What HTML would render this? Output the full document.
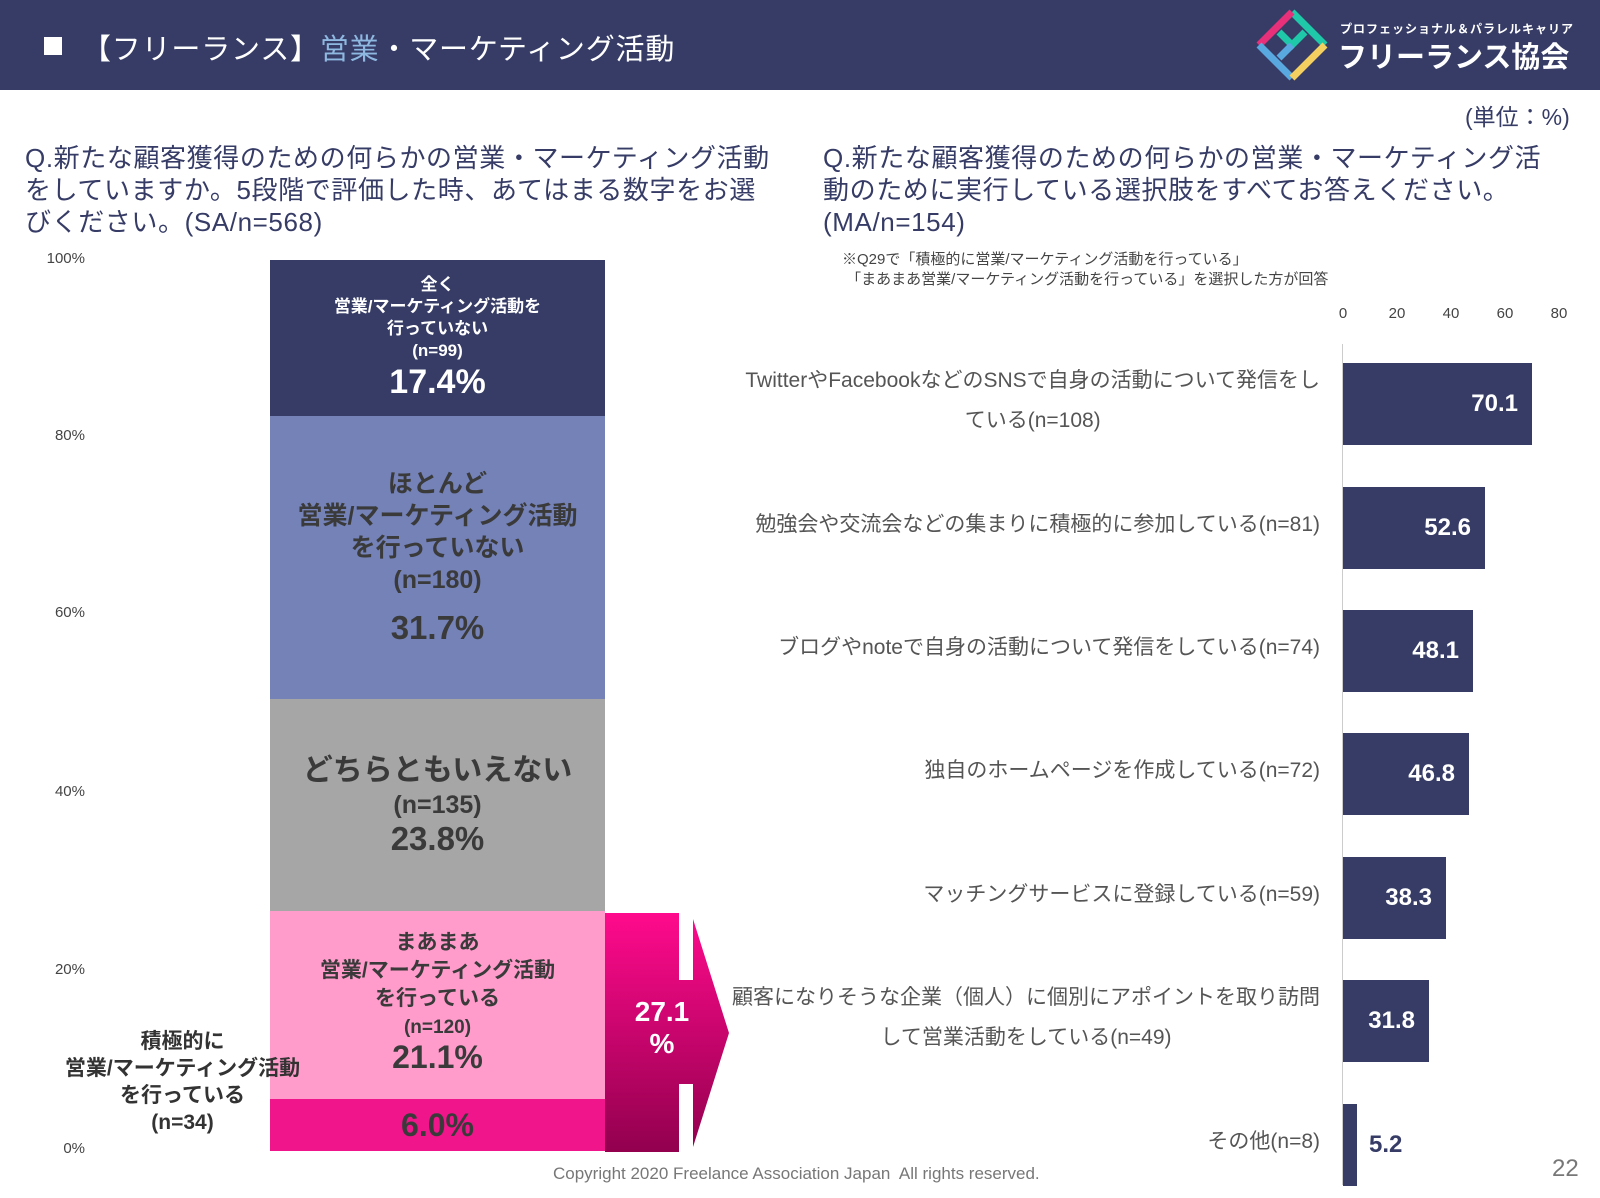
<!DOCTYPE html>
<html><head><meta charset="utf-8"><style>
*{margin:0;padding:0;box-sizing:border-box}
body{width:1600px;height:1198px;background:#fff;position:relative;overflow:hidden;font-family:"Liberation Sans","Noto Sans CJK JP",sans-serif}
.a{position:absolute}
.hdr{left:0;top:0;width:1600px;height:90px;background:#363c66}
.q{font-size:26px;line-height:32px;color:#363c66;white-space:nowrap;letter-spacing:0.6px}
.yl{font-size:15px;color:#444;width:60px;text-align:right;left:25px}
.seg{left:270px;width:335px;text-align:center;font-weight:bold;display:flex;flex-direction:column;justify-content:center;align-items:center}
.lab{font-size:21px;color:#555;text-align:right;right:280px;line-height:40px;white-space:nowrap}
.bar{left:1343px;height:82px;background:#363c66;color:#fff;font-weight:bold;font-size:24px;text-align:right;padding-right:14px;line-height:82px}
.tk{top:305px;font-size:15px;color:#444;width:40px;text-align:center}
</style></head><body>
<div class="a hdr"></div>
<div class="a" style="left:44px;top:37px;width:18px;height:18px;background:#fff"></div>
<div class="a" style="left:82px;top:26px;font-size:29px;color:#fff;white-space:nowrap;letter-spacing:0.8px">【フリーランス】<span style="color:#8fb8e0">営業</span>・マーケティング活動</div>
<svg class="a" style="left:1255px;top:8px" width="74" height="74" viewBox="0 0 74 74">
<g fill="none" stroke-width="7"><path d="M37 4 L70 37" stroke="#1fc8a8"/><path d="M4 37 L37 4" stroke="#e8307a"/><path d="M4 37 L37 70" stroke="#5aa8e0"/><path d="M37 70 L70 37" stroke="#f4d060"/><path d="M24 24 L37 37 L50 24" stroke="#1fc8a8"/><path d="M24 50 L37 37" stroke="#5aa8e0"/></g></svg>
<div class="a" style="left:1340px;top:20px;font-size:12px;color:#fff;font-weight:bold;letter-spacing:1px">プロフェッショナル＆パラレルキャリア</div>
<div class="a" style="left:1338px;top:34px;font-size:29px;color:#fff;font-weight:bold;white-space:nowrap">フリーランス協会</div>

<div class="a" style="left:1465px;top:98px;font-size:23px;color:#363c66">(単位：%)</div>
<div class="a q" style="left:25px;top:142px">Q.新たな顧客獲得のための何らかの営業・マーケティング活動<br>をしていますか。5段階で評価した時、あてはまる数字をお選<br>びください。(SA/n=568)</div>
<div class="a q" style="left:823px;top:142px">Q.新たな顧客獲得のための何らかの営業・マーケティング活<br>動のために実行している選択肢をすべてお答えください。<br>(MA/n=154)</div>
<div class="a" style="left:842px;top:250px;font-size:15px;line-height:20px;color:#444;white-space:nowrap">※Q29で「積極的に営業/マーケティング活動を行っている」<br>&nbsp;「まあまあ営業/マーケティング活動を行っている」を選択した方が回答</div>

<div class="a yl" style="top:250px">100%</div>
<div class="a yl" style="top:427px">80%</div>
<div class="a yl" style="top:604px">60%</div>
<div class="a yl" style="top:783px">40%</div>
<div class="a yl" style="top:961px">20%</div>
<div class="a yl" style="top:1140px">0%</div>

<div class="a seg" style="top:260px;height:156px;background:#363c66;color:#fff;font-size:17px;line-height:22px"><div>全く<br>営業/マーケティング活動を<br>行っていない<br>(n=99)</div><div style="font-size:34px;line-height:40px">17.4%</div></div>
<div class="a seg" style="top:416px;height:283px;background:#7482b8;color:#3a3a3a;font-size:25px;line-height:32px"><div>ほとんど<br>営業/マーケティング活動<br>を行っていない<br>(n=180)</div><div style="font-size:33px;line-height:40px;margin-top:12px">31.7%</div></div>
<div class="a seg" style="top:699px;height:212px;background:#a6a6a6;color:#3a3a3a;font-size:25px;line-height:34px"><div style="font-size:30px">どちらともいえない</div><div>(n=135)</div><div style="font-size:33px">23.8%</div></div>
<div class="a seg" style="top:911px;height:188px;background:#ff9ccb;color:#3a3a3a;font-size:21px;line-height:28px"><div>まあまあ<br>営業/マーケティング活動<br>を行っている<br><span style="font-size:19px">(n=120)</span></div><div style="font-size:32px;line-height:30px;margin-bottom:10px">21.1%</div></div>
<div class="a seg" style="top:1099px;height:52px;background:#f0158a;color:#3a3a3a;font-size:32px">6.0%</div>
<div class="a" style="left:40px;top:1028px;width:285px;text-align:center;font-weight:bold;font-size:21px;line-height:27px;color:#333">積極的に<br>営業/マーケティング活動<br>を行っている<br>(n=34)</div>

<svg class="a" style="left:605px;top:913px" width="130" height="240">
<defs><linearGradient id="g" x1="0" y1="0" x2="0" y2="1"><stop offset="0" stop-color="#ff0a8c"/><stop offset="1" stop-color="#92004e"/></linearGradient></defs>
<path d="M0 0 H74 V67 H88 V6 L124 120 L88 234 V171 H74 V239 H0 Z" fill="url(#g)"/>
</svg>
<div class="a" style="left:605px;top:996px;width:114px;text-align:center;color:#fff;font-weight:bold;font-size:28px;line-height:32px">27.1<br>%</div>

<div class="a tk" style="left:1323px">0</div>
<div class="a tk" style="left:1377px">20</div>
<div class="a tk" style="left:1431px">40</div>
<div class="a tk" style="left:1485px">60</div>
<div class="a tk" style="left:1539px">80</div>
<div class="a" style="left:1342px;top:344px;width:1px;height:841px;background:#ccc"></div>

<div class="a bar" style="top:363px;width:189px">70.1</div>
<div class="a bar" style="top:487px;width:142px">52.6</div>
<div class="a bar" style="top:610px;width:130px">48.1</div>
<div class="a bar" style="top:733px;width:126px">46.8</div>
<div class="a bar" style="top:857px;width:103px">38.3</div>
<div class="a bar" style="top:980px;width:86px">31.8</div>
<div class="a bar" style="top:1104px;width:14px;padding:0;overflow:visible"><span style="position:absolute;left:26px;color:#363c66">5.2</span></div>

<div class="a lab" style="top:361px;text-align:center">TwitterやFacebookなどのSNSで自身の活動について発信をし<br>ている(n=108)</div>
<div class="a lab" style="top:505px">勉強会や交流会などの集まりに積極的に参加している(n=81)</div>
<div class="a lab" style="top:628px">ブログやnoteで自身の活動について発信をしている(n=74)</div>
<div class="a lab" style="top:751px">独自のホームページを作成している(n=72)</div>
<div class="a lab" style="top:875px">マッチングサービスに登録している(n=59)</div>
<div class="a lab" style="top:978px;text-align:center">顧客になりそうな企業（個人）に個別にアポイントを取り訪問<br>して営業活動をしている(n=49)</div>
<div class="a lab" style="top:1122px">その他(n=8)</div>

<div class="a" style="left:553px;top:1164px;font-size:17px;color:#777;white-space:nowrap">Copyright 2020 Freelance Association Japan&nbsp; All rights reserved.</div>
<div class="a" style="left:1552px;top:1155px;font-size:24px;color:#777">22</div>
</body></html>
